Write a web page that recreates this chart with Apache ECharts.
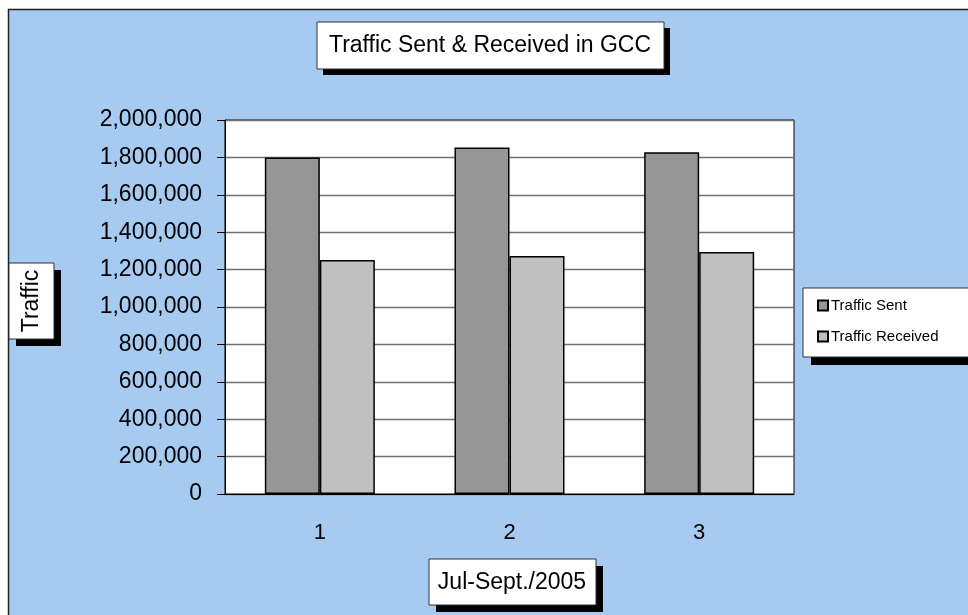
<!DOCTYPE html>
<html>
<head>
<meta charset="utf-8">
<script src="https://cdn.jsdelivr.net/npm/echarts@6/dist/echarts.min.js"></script>
<style>
  html, body { margin: 0; padding: 0; background: #fff; }
  #chart { width: 968px; height: 615px; }
</style>
</head>
<body>
<div id="chart"></div>
<script>
// data
const categories = ['1', '2', '3']
const trafficSent = [1800000, 1853000, 1827000]
const trafficReceived = [1251000, 1273000, 1294000]
const seriesNames = ['Traffic Sent', 'Traffic Received']

const font = 'Liberation Sans, Arial, sans-serif'

// a white box with a hard black shadow (excel style)
function shadowBox(x, y, w, h, off) {
  return [
    { type: 'rect', shape: { x: x + off, y: y + off, width: w, height: h }, style: { fill: '#000' }, silent: true },
    { type: 'rect', shape: { x: x, y: y, width: w, height: h }, style: { fill: '#fff', stroke: '#333', lineWidth: 1 }, silent: true }
  ]
}

const chart = echarts.init(document.getElementById('chart'))

chart.setOption({
  animation: false,
  backgroundColor: '#fff',
  textStyle: { fontFamily: font },
  graphic: [
    // chart area
    { type: 'rect', z: -10, shape: { x: 8.5, y: 9.5, width: 1000, height: 700 }, style: { fill: '#A6CAF0', stroke: '#222', lineWidth: 1.5 }, silent: true },
    ...shadowBox(317, 22, 347, 47, 6),
    { type: 'text', x: 490, y: 46, style: { text: 'Traffic Sent & Received in GCC', font: '23px ' + font, fill: '#000', align: 'center', verticalAlign: 'middle' } },
    ...shadowBox(9, 263, 45, 76, 7),
    { type: 'text', x: 32, y: 301, rotation: Math.PI / 2, style: { text: 'Traffic', font: '23px ' + font, fill: '#000', align: 'center', verticalAlign: 'middle' } },
    ...shadowBox(429, 559, 167, 46, 7),
    { type: 'text', x: 512, y: 583, style: { text: 'Jul-Sept./2005', font: '23px ' + font, fill: '#000', align: 'center', verticalAlign: 'middle' } },
    ...shadowBox(803, 288, 200, 69, 8)
  ],
  legend: {
    orient: 'vertical',
    left: 812,
    top: 293,
    itemWidth: 10,
    itemHeight: 10,
    itemGap: 16,
    icon: 'rect',
    data: seriesNames,
    textStyle: { fontSize: 15, color: '#000', fontFamily: font, padding: [0, 0, 0, -2] }
  },
  grid: {
    left: 225,
    top: 120,
    right: 174,
    bottom: 121,
    show: true,
    backgroundColor: '#fff',
    borderColor: '#000',
    borderWidth: 1
  },
  xAxis: {
    type: 'category',
    data: categories,
    axisLine: { lineStyle: { color: '#000' } },
    axisTick: { length: 7, lineStyle: { color: '#000' } },
    axisLabel: { color: '#000', fontSize: 22, margin: 28 }
  },
  yAxis: {
    type: 'value',
    min: 0,
    max: 2000000,
    interval: 200000,
    axisLine: { show: true, lineStyle: { color: '#000' } },
    axisTick: { show: true, length: 8, lineStyle: { color: '#000' } },
    axisLabel: {
      color: '#000',
      fontSize: 23,
      margin: 23,
      formatter: v => v.toLocaleString('en-US')
    },
    splitLine: { lineStyle: { color: '#707070', width: 1.3 } }
  },
  series: [
    {
      name: seriesNames[0],
      type: 'bar',
      data: trafficSent,
      barGap: '0%',
      barCategoryGap: '42%',
      itemStyle: { color: '#969696', borderColor: '#000', borderWidth: 1.5 }
    },
    {
      name: seriesNames[1],
      type: 'bar',
      data: trafficReceived,
      itemStyle: { color: '#C0C0C0', borderColor: '#000', borderWidth: 1.5 }
    }
  ]
})
</script>
</body>
</html>
